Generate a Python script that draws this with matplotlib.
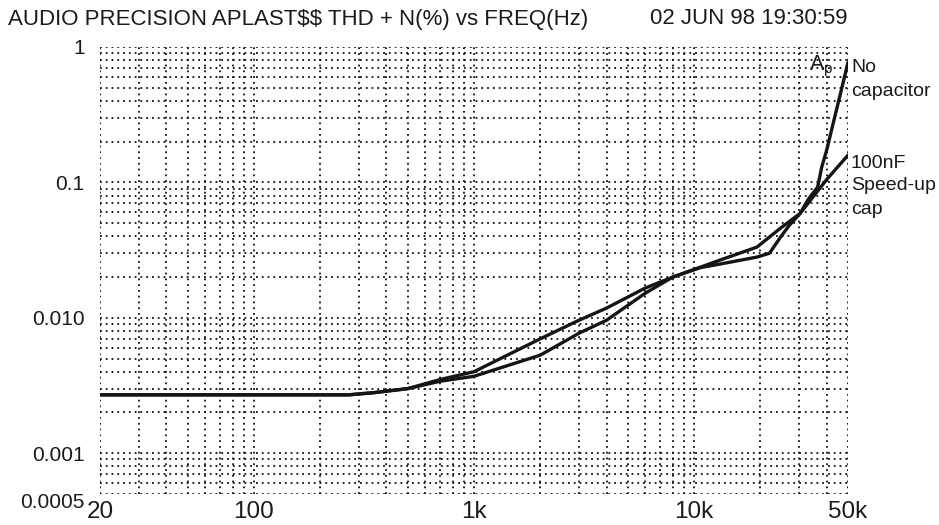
import matplotlib
matplotlib.use("Agg")
import matplotlib.pyplot as plt
from matplotlib.ticker import LogLocator, NullFormatter
from matplotlib.transforms import ScaledTranslation

plt.rcParams["font.family"] = ["Liberation Sans", "DejaVu Sans"]

# frequency points (Hz) and THD+N (%)
freq_100nf = [20, 100, 200, 270, 350, 500, 700, 1000, 2000, 3000, 4000,
              6000, 8000, 10700, 13200, 19300, 24700, 30300, 40000, 50000]
thd_100nf = [0.0027, 0.0027, 0.0027, 0.0027, 0.0028, 0.0030, 0.0035, 0.0040,
             0.0070, 0.0096, 0.0118, 0.0166, 0.0200, 0.0237, 0.0268, 0.0333,
             0.046, 0.059, 0.105, 0.159]

freq_nocap = [20, 100, 200, 270, 350, 500, 700, 1000, 2000, 3000, 4000, 6000,
              8000, 10700, 13200, 19300, 22000, 24700, 27000, 30300, 33000,
              36400, 38000, 40000, 42000, 46000, 50000]
thd_nocap = [0.0027, 0.0027, 0.0027, 0.0027, 0.0028, 0.0030, 0.0034, 0.0037,
             0.0053, 0.0077, 0.0096, 0.0152, 0.0200, 0.0235, 0.0250, 0.0281,
             0.0300, 0.0395, 0.048, 0.059, 0.075, 0.0925, 0.13, 0.173, 0.24,
             0.44, 0.77]

xticks = [20, 100, 1000, 10000, 50000]
xlabels = ["20", "100", "1k", "10k", "50k"]
yticks = [0.0005, 0.001, 0.01, 0.1, 1]
ylabels = ["0.0005", "0.001", "0.010", "0.1", "1"]

ink = "#1a1a1a"

fig = plt.figure(figsize=(9.39, 5.25), dpi=100)
ax = fig.add_axes([100 / 939, 1 - 494 / 525, 748 / 939, 447 / 525])

ax.set_xscale("log")
ax.set_yscale("log")
ax.set_xlim(20, 50000)
ax.set_ylim(0.0005, 1)

dots = (0, (1.0, 2.2))
ax.xaxis.set_minor_locator(LogLocator(base=10, subs=range(1, 10), numticks=50))
ax.yaxis.set_minor_locator(LogLocator(base=10, subs=range(1, 10), numticks=50))
ax.xaxis.set_minor_formatter(NullFormatter())
ax.yaxis.set_minor_formatter(NullFormatter())
ax.grid(True, which="both", color="#111111", linestyle=dots, linewidth=1.3)
ax.set_axisbelow(True)

ax.set_xticks(xticks)
ax.set_xticklabels(xlabels)
ax.set_yticks(yticks)
ax.set_yticklabels(ylabels)
ax.tick_params(which="both", length=0, colors=ink)
ax.tick_params(axis="x", pad=5, labelsize=17.5)
ax.tick_params(axis="y", pad=11, labelsize=15)

# the lowest y label sits a little under its grid line
low = ax.get_yticklabels()[0]
low.set_transform(low.get_transform() + ScaledTranslation(0, -0.06, fig.dpi_scale_trans))

for s in ax.spines.values():
    s.set_visible(False)

ax.plot(freq_100nf, thd_100nf, color="#151515", lw=2.4, solid_capstyle="round")
ax.plot(freq_nocap, thd_nocap, color="#151515", lw=2.4, solid_capstyle="round")

def px(x, y):
    return x / 939, 1 - y / 525

fig.text(*px(8, 19), "AUDIO PRECISION APLAST$$ THD + N(%) vs FREQ(Hz)",
         fontsize=16, va="center", ha="left", color=ink, parse_math=False)
fig.text(*px(847, 19), "02 JUN 98 19:30:59", fontsize=16, va="center",
         ha="right", color=ink)

fig.text(*px(810, 64), "A", fontsize=15.5, va="center", ha="left", color=ink)
fig.text(*px(823, 69), "p", fontsize=11, va="center", ha="left", color=ink)
fig.text(*px(851, 67), "No", fontsize=14, va="center", ha="left", color=ink)
fig.text(*px(851, 91), "capacitor", fontsize=14, va="center", ha="left", color=ink)
fig.text(*px(851, 163), "100nF", fontsize=14, va="center", ha="left", color=ink)
fig.text(*px(851, 186), "Speed-up", fontsize=14, va="center", ha="left", color=ink)
fig.text(*px(851, 210), "cap", fontsize=14, va="center", ha="left", color=ink)

fig.savefig("out.png", dpi=100)
